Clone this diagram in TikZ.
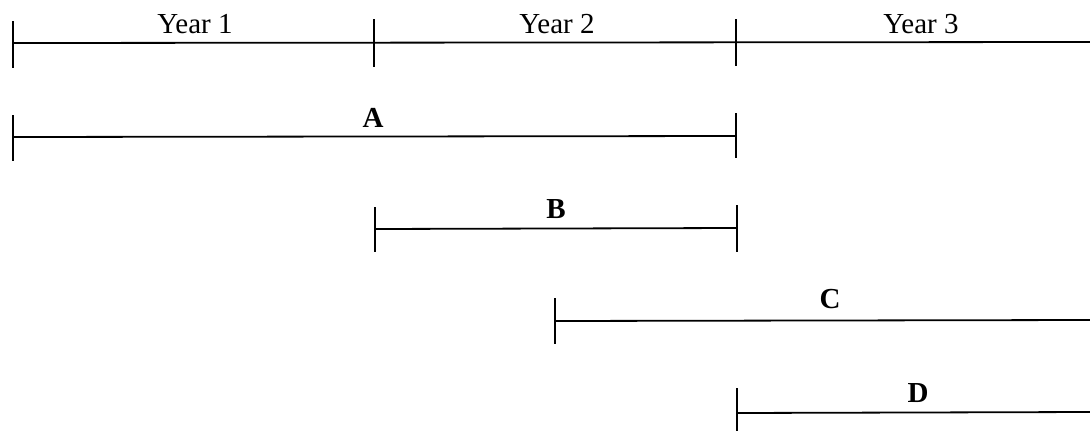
\documentclass[tikz,border=0pt]{standalone}
\usepackage{fontspec}
\setmainfont{Liberation Serif}
\begin{document}
\begin{tikzpicture}[x=1pt,y=-1pt,
  bar/.style={line width=1.8pt,black},
  tick/.style={line width=2.4pt,black},
  yearlbl/.style={anchor=base,inner sep=0pt,font=\fontsize{29}{32}\selectfont},
  barlbl/.style={anchor=base,inner sep=0pt,font=\fontsize{29}{32}\selectfont\bfseries}]
\useasboundingbox (0,0) rectangle (1090,431);
% time axis
\coordinate (t0) at (13,43);
\coordinate (t3) at (1090,42);
\coordinate (k0a) at (13,21); \coordinate (k0b) at (13,68);
\coordinate (k1a) at (374,19); \coordinate (k1b) at (374,67);
\coordinate (k2a) at (736,19); \coordinate (k2b) at (736,66);
\draw[bar] (t0) -- (t3);
\draw[tick] (k0a) -- (k0b);
\draw[tick] (k1a) -- (k1b);
\draw[tick] (k2a) -- (k2b);
\node[yearlbl] (y1) at (195,34) {Year 1};
\node[yearlbl] (y2) at (557,34) {Year 2};
\node[yearlbl] (y3) at (921,33) {Year 3};
% A
\coordinate (a0) at (13,137); \coordinate (a1) at (736,136);
\coordinate (a0t) at (13,115); \coordinate (a0b) at (13,161);
\coordinate (a1t) at (736,113); \coordinate (a1b) at (736,158);
\draw[bar] (a0) -- (a1);
\draw[tick] (a0t) -- (a0b);
\draw[tick] (a1t) -- (a1b);
\node[barlbl] (la) at (373,127) {A};
% B
\coordinate (b0) at (375,229); \coordinate (b1) at (737,228);
\coordinate (b0t) at (375,207); \coordinate (b0b) at (375,252);
\coordinate (b1t) at (737,205); \coordinate (b1b) at (737,252);
\draw[bar] (b0) -- (b1);
\draw[tick] (b0t) -- (b0b);
\draw[tick] (b1t) -- (b1b);
\node[barlbl] (lb) at (556,218) {B};
% C
\coordinate (c0) at (555,321); \coordinate (c1) at (1090,320);
\coordinate (c0t) at (555,298); \coordinate (c0b) at (555,344);
\draw[bar] (c0) -- (c1);
\draw[tick] (c0t) -- (c0b);
\node[barlbl] (lc) at (830,308) {C};
% D
\coordinate (d0) at (737,413); \coordinate (d1) at (1090,412);
\coordinate (d0t) at (737,388); \coordinate (d0b) at (737,431);
\draw[bar] (d0) -- (d1);
\draw[tick] (d0t) -- (d0b);
\node[barlbl] (ld) at (918,402) {D};
\end{tikzpicture}
\end{document}
